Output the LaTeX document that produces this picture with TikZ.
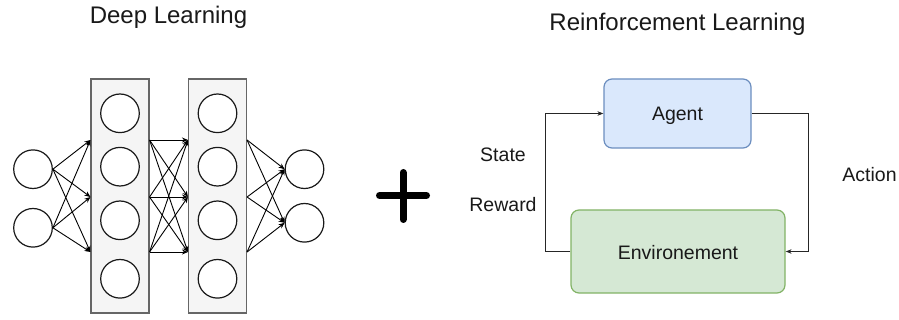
\documentclass[tikz,border=0pt]{standalone}
\usepackage{fontspec}
\setmainfont{Liberation Sans}
\usetikzlibrary{arrows.meta}
\definecolor{agentfill}{HTML}{DAE8FC}
\definecolor{agentdraw}{HTML}{6C8EBF}
\definecolor{envfill}{HTML}{D5E8D4}
\definecolor{envdraw}{HTML}{82B366}
\definecolor{layerfill}{HTML}{F5F5F5}
\definecolor{layerdraw}{HTML}{666666}
\tikzset{
  neuron/.style={circle, draw=black!90, line width=1.2pt, fill=white, minimum size=38.6pt, inner sep=0pt},
  layer/.style={rectangle, draw=layerdraw, line width=1.1pt, fill=layerfill, minimum width=58pt, minimum height=234pt, inner sep=0pt},
  nnarrow/.style={-{Stealth[length=6pt,width=5pt]}, line width=0.9pt, black},
  loop/.style={-{Stealth[length=6pt,width=4.5pt]}, line width=1pt, black!85},
  rlbox/.style={rectangle, rounded corners=8pt, line width=1.2pt, inner sep=0pt},
  title/.style={anchor=base, font=\fontsize{24}{28}\selectfont, text=black!90},
  lbl/.style={anchor=base, font=\fontsize{19.5}{23}\selectfont, text=black!90},
}
\begin{document}
\begin{tikzpicture}[x=1pt,y=-1pt]
\useasboundingbox (0,0) rectangle (899,320);
% titles
\node[title] (tdl) at (168.5,24) {Deep Learning};
\node[title] (trl) at (677.5,31) {Reinforcement Learning};
% layers
\node[layer] (b1) at (120,196) {};
\node[layer] (b2) at (217.5,196) {};
% neurons
\node[neuron] (i1) at (33,169.2) {};
\node[neuron] (i2) at (33,227.8) {};
\foreach \k/\y in {1/113.3,2/166.7,3/220.3,4/278.8}{
  \node[neuron] (h1\k) at (120,\y) {};
  \node[neuron] (h2\k) at (217.5,\y) {};
}
\node[neuron] (o1) at (304.5,169.2) {};
\node[neuron] (o2) at (304.5,222.8) {};
% ports on layer edges
\foreach \k/\y in {1/140,2/197,3/252}{
  \coordinate (b1l\k) at (b1.west |- 0,\y);
  \coordinate (b1r\k) at (b1.east |- 0,\y);
  \coordinate (b2l\k) at (b2.west |- 0,\y);
  \coordinate (b2r\k) at (b2.east |- 0,\y);
}
% connections
\foreach \i in {1,2}{
  \foreach \k in {1,2,3}{
    \draw[nnarrow] (i\i.east) -- (b1l\k);
  }
}
\foreach \a in {1,2,3}{
  \foreach \b in {1,2,3}{
    \draw[nnarrow] (b1r\a) -- (b2l\b);
  }
}
\foreach \k in {1,2,3}{
  \foreach \o in {1,2}{
    \draw[nnarrow] (b2r\k) -- (o\o.west);
  }
}
% plus sign
\draw[line width=7pt, line cap=round, black] (379.5,195.5) -- (426.5,195.5);
\draw[line width=7pt, line cap=round, black] (403,172.5) -- (403,219.5);
% RL part
\node[rlbox, fill=agentfill, draw=agentdraw, minimum width=147pt, minimum height=69pt] (agent) at (677.5,113.5) {};
\node[lbl] (agentt) at (677.5,121) {Agent};
\node[rlbox, fill=envfill, draw=envdraw, minimum width=214pt, minimum height=83pt] (env) at (678,251.5) {};
\node[lbl] (envt) at (678,259.5) {Environement};
\draw[loop] (env.west) -- ++(-25,0) |- (agent.west);
\draw[loop] (agent.east) -- ++(57,0) |- (env.east);
\node[lbl] (state) at (503,162) {State};
\node[lbl] (reward) at (503,212) {Reward};
\node[lbl] (action) at (869.5,182) {Action};
\end{tikzpicture}
\end{document}
